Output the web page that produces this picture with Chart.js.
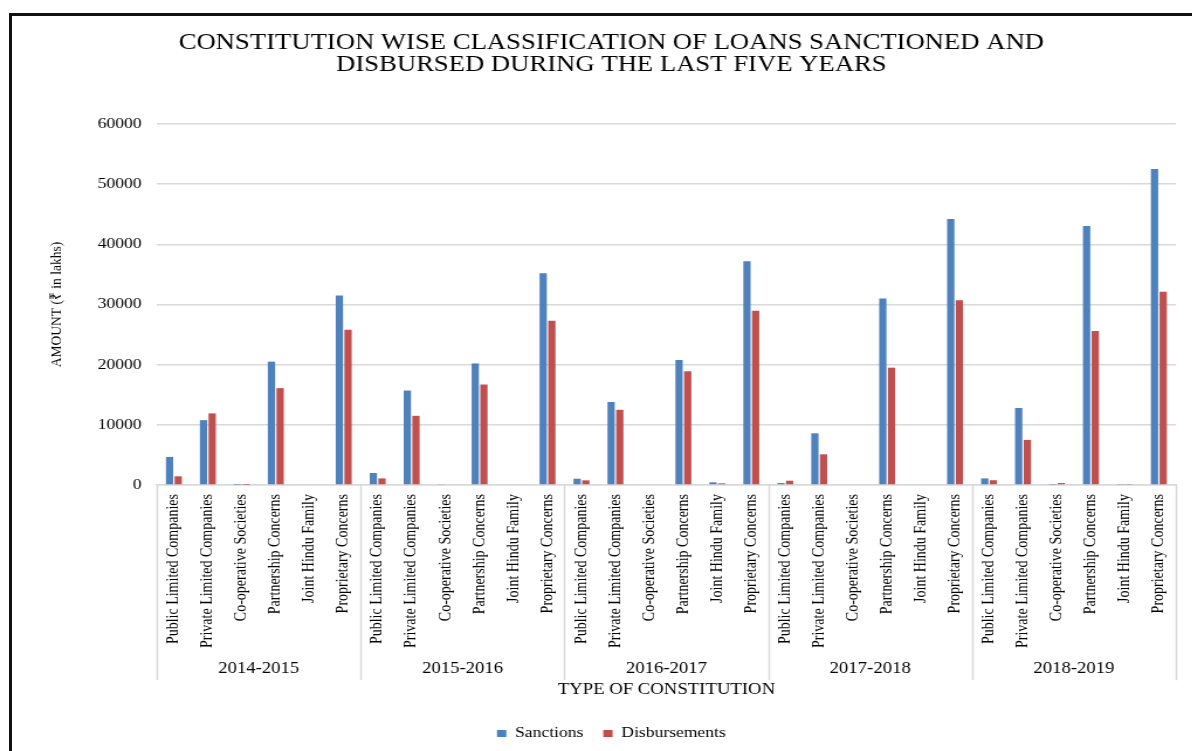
<!DOCTYPE html>
<html>
<head>
<meta charset="utf-8">
<title>Constitution wise classification of loans</title>
<script src="https://cdn.jsdelivr.net/npm/chart.js@4"></script>
<style>
  html, body { margin: 0; padding: 0; background: #fff; overflow: hidden; }
  .frame {
    position: absolute; left: 9px; top: 13px; width: 1300px; height: 900px;
    border-top: 3px solid #111; border-left: 3px solid #111;
  }
  /* the source picture is stretched sideways, so the canvas is too */
  .wrap {
    position: absolute; left: 0; top: 0; width: 1040px; height: 751px;
    transform: scaleX(1.17); transform-origin: 0 0;
  }
</style>
</head>
<body>
<div class="frame"></div>
<div class="wrap"><canvas id="loans" width="1040" height="751"></canvas></div>
<script>
const years = ["2014-2015", "2015-2016", "2016-2017", "2017-2018", "2018-2019"];
const constitutions = [
  "Public Limited Companies",
  "Private Limited Companies",
  "Co-operative Societies",
  "Partnership Concerns",
  "Joint Hindu Family",
  "Proprietary Concerns",
];
const yTicks = [0, 10000, 20000, 30000, 40000, 50000, 60000];

// amounts in lakhs, one row per year, same order as constitutions
const sanctions = [
  [4670, 10780, 40, 20500, 0, 31500],
  [2000, 15700, 100, 20200, 0, 35200],
  [1050, 13800, 0, 20780, 450, 37200],
  [330, 8600, 0, 31000, 0, 44200],
  [1100, 12800, 60, 43050, 80, 52500],
];
const disbursements = [
  [1450, 11900, 30, 16100, 0, 25800],
  [1100, 11500, 0, 16700, 0, 27300],
  [780, 12500, 0, 18900, 280, 28950],
  [720, 5100, 0, 19500, 0, 30700],
  [800, 7500, 330, 25600, 80, 32100],
];

const serif = "'Liberation Serif', 'Times New Roman', serif";
const gridGrey = "#d9d9d9";

// separators between the year groups, under the plot
const groupLines = {
  id: "groupLines",
  afterDraw(chart) {
    const x2 = chart.scales.x2;
    const ctx = chart.ctx;
    const top = chart.chartArea.bottom;
    const step = x2.width / years.length;
    ctx.save();
    ctx.strokeStyle = gridGrey;
    ctx.lineWidth = 1.5;
    for (let i = 0; i <= years.length; i++) {
      const px = Math.round(x2.left + i * step) + 0.5;
      ctx.beginPath();
      ctx.moveTo(px, top);
      ctx.lineTo(px, x2.bottom);
      ctx.stroke();
    }
    ctx.restore();
  },
};

const labels = years.flatMap(() => constitutions);

new Chart(document.getElementById("loans"), {
  type: "bar",
  data: {
    labels: labels,
    datasets: [
      {
        label: "Sanctions",
        data: sanctions.flat(),
        backgroundColor: "#4F81BD",
        categoryPercentage: 0.51,
        barPercentage: 0.84,
      },
      {
        label: "Disbursements",
        data: disbursements.flat(),
        backgroundColor: "#C0504D",
        categoryPercentage: 0.51,
        barPercentage: 0.84,
      },
    ],
  },
  options: {
    responsive: false,
    animation: false,
    layout: { padding: { left: 40, right: 35, top: 0, bottom: 0 } },
    plugins: {
      title: {
        display: true,
        text: [
          "CONSTITUTION WISE CLASSIFICATION OF LOANS SANCTIONED AND",
          "DISBURSED DURING THE LAST FIVE YEARS",
        ],
        color: "#000",
        font: { family: serif, size: 22.8, weight: "normal", lineHeight: 0.95 },
        padding: { top: 32.6, bottom: 48 },
      },
      legend: {
        position: "bottom",
        labels: {
          color: "#000",
          font: { family: serif, size: 15 },
          boxWidth: 8,
          boxHeight: 7,
          padding: 17,
        },
      },
      tooltip: { enabled: false },
    },
    scales: {
      x: {
        grid: { display: false, drawTicks: false },
        border: { display: true, color: gridGrey, width: 1.5 },
        ticks: {
          color: "#000",
          font: { family: serif, size: 14 },
          minRotation: 90,
          maxRotation: 90,
          autoSkip: false,
          padding: 9,
        },
      },
      x2: {
        type: "category",
        labels: years,
        position: "bottom",
        offset: true,
        grid: { display: false, drawTicks: false },
        border: { display: false },
        ticks: {
          color: "#000",
          font: { family: serif, size: 16 },
          padding: 2,
        },
      },
      x3: {
        type: "category",
        labels: years,
        position: "bottom",
        grid: { display: false, drawTicks: false },
        border: { display: false },
        ticks: { display: false },
        title: {
          display: true,
          text: "TYPE OF CONSTITUTION",
          color: "#000",
          font: { family: serif, size: 16 },
          padding: { top: 0, bottom: 9.6 },
        },
      },
      y: {
        min: yTicks[0],
        max: yTicks[yTicks.length - 1],
        afterBuildTicks: (axis) => {
          axis.ticks = yTicks.map((v) => ({ value: v }));
        },
        grid: { color: gridGrey, lineWidth: 1.5, drawTicks: false },
        border: { display: false },
        ticks: {
          color: "#000",
          font: { family: serif, size: 15 },
          padding: 13,
          callback: (value) => String(value),
        },
        title: {
          display: true,
          text: "AMOUNT (₹ in lakhs)",
          color: "#000",
          font: { family: serif, size: 13.5 },
          padding: { top: 0, bottom: 14.4 },
        },
      },
    },
  },
  plugins: [groupLines],
});
</script>
</body>
</html>
